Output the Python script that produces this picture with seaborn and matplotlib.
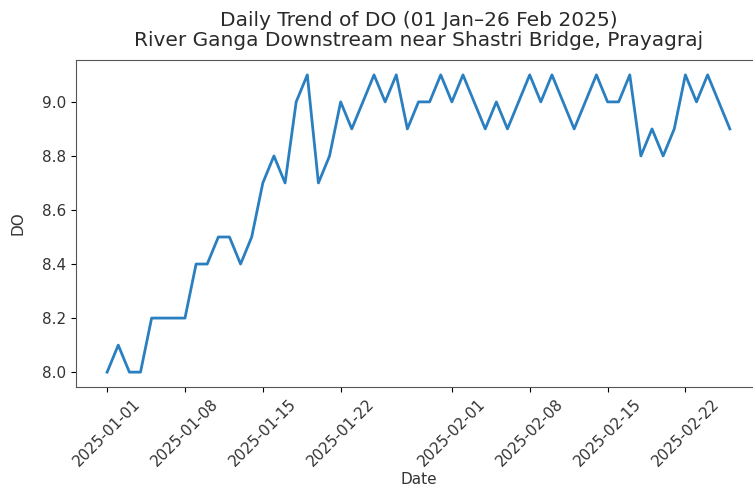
import matplotlib
matplotlib.use("Agg")
import matplotlib.pyplot as plt
import seaborn as sns
import pandas as pd
import numpy as np

dates = pd.date_range("2025-01-01", "2025-02-26", freq="D")
do_values = [
    8.0, 8.1, 8.0, 8.0, 8.2, 8.2, 8.2, 8.2, 8.4, 8.4,
    8.5, 8.5, 8.4, 8.5, 8.7, 8.8, 8.7, 9.0, 9.1, 8.7,
    8.8, 9.0, 8.9, 9.0, 9.1, 9.0, 9.1, 8.9, 9.0, 9.0,
    9.1,
    9.0, 9.1, 9.0, 8.9, 9.0, 8.9, 9.0, 9.1, 9.0, 9.1,
    9.0, 8.9, 9.0, 9.1, 9.0, 9.0, 9.1, 8.8, 8.9, 8.8,
    8.9, 9.1, 9.0, 9.1, 9.0, 8.9,
]
title = "Daily Trend of DO (01 Jan\u201326 Feb 2025)\nRiver Ganga Downstream near Shastri Bridge, Prayagraj"

df = pd.DataFrame({"Date": dates, "DO": do_values})

fig = plt.figure(figsize=(7.53, 4.86), dpi=100)
W, H = 753, 486
ax = fig.add_axes([76 / W, 1 - 387 / H, 685 / W, (387 - 60) / H])
sns.lineplot(data=df, x="Date", y="DO", ax=ax, color="#2a7fc0", linewidth=2)
ax.set_title(title, fontsize=14.5, color="#2a2a2a", pad=10, linespacing=1.05)
ax.set_xlabel("Date", fontsize=11, color="#333333", labelpad=2)
ax.set_ylabel("DO", fontsize=11, color="#333333", labelpad=12)
ax.tick_params(axis="x", rotation=45, labelsize=11, labelcolor="#333333")
ax.tick_params(axis="y", labelsize=11, labelcolor="#333333")
for s in ax.spines.values():
    s.set_color("#555555")
fig.savefig("out.png", dpi=100)
